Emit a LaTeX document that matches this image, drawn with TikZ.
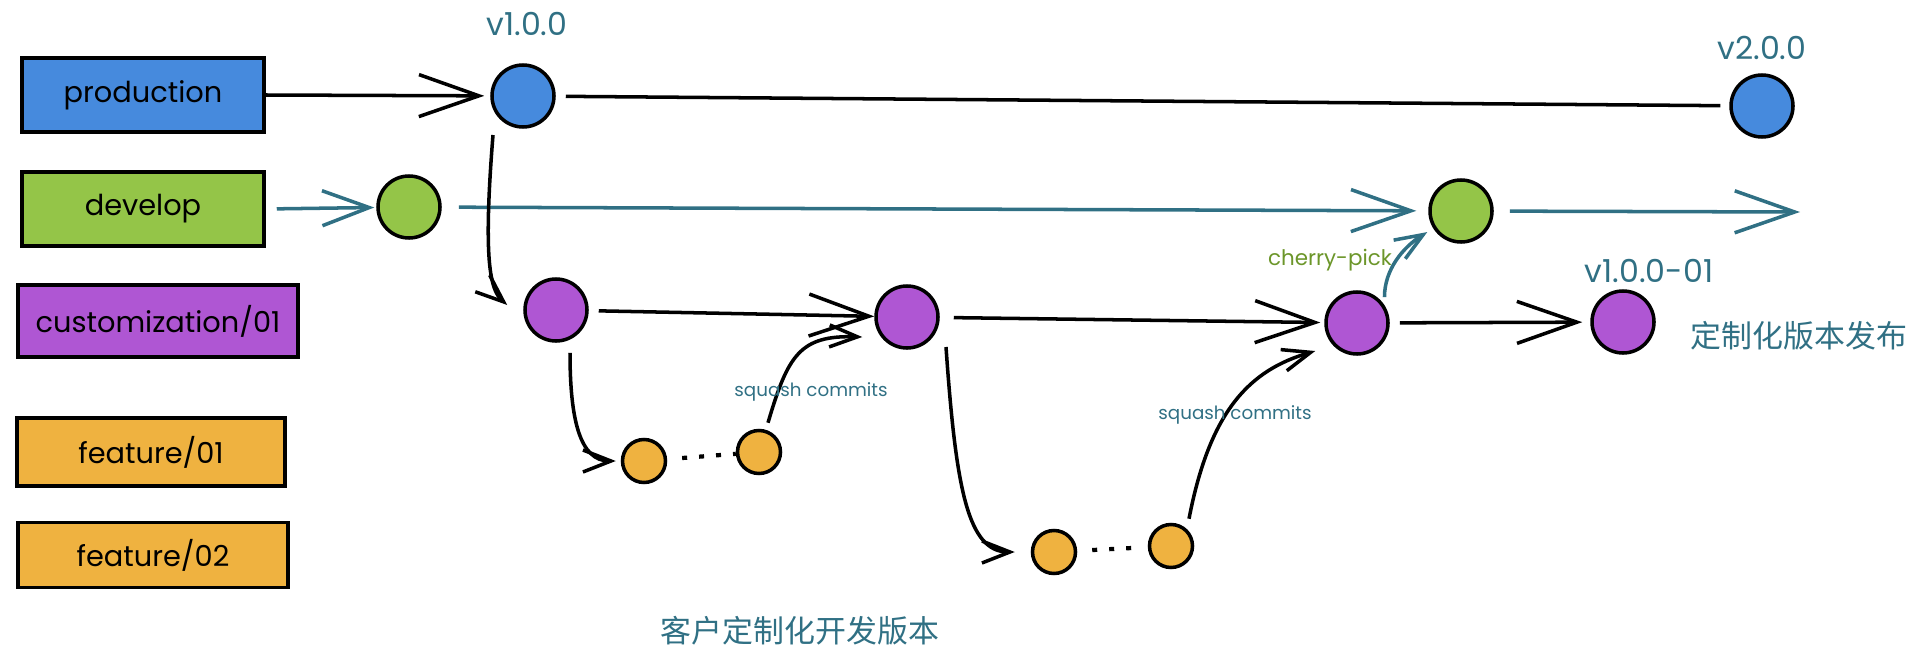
\documentclass[tikz,border=0pt]{standalone}
\usepackage{fontspec}
\setmainfont{Poppins}
\newfontfamily\cjkfont{Noto Sans CJK SC}
\usetikzlibrary{arrows.meta}
\definecolor{brBlue}{RGB}{70,138,221}
\definecolor{brGreen}{RGB}{148,197,72}
\definecolor{brPurple}{RGB}{175,86,211}
\definecolor{brOrange}{RGB}{239,178,64}
\definecolor{brTeal}{RGB}{48,112,132}
\definecolor{brOlive}{RGB}{108,150,42}
\newcommand{\LW}{1pt}
\newcommand{\DC}{0.62}
\newcommand{\DF}{0.43}
\newcommand{\fs}[1]{\fontsize{#1}{#1}\selectfont}

\begin{document}
\begin{tikzpicture}[
    branch/.style={draw=black, line width=\LW, inner sep=0pt, font=\fs{8.2}},
    commit/.style={circle, draw=black, line width=\LW, inner sep=0pt, minimum size=\DC cm},
    wip/.style={commit, fill=brOrange, minimum size=\DF cm},
    flow/.style={line width=\LW, -{Straight Barb[length=6mm, width=4.2mm]}},
    hop/.style={line width=\LW, -{Straight Barb[length=2.8mm, width=2.2mm]}},
    rail/.style={line width=\LW},
    dots/.style={line width=1.2pt, dash pattern=on 0.5mm off 1.2mm},
    ver/.style={text=brTeal, font=\fs{9}},
    note/.style={text=brTeal, font=\fs{5.2}},
    cn/.style={text=brTeal, font=\cjkfont\fs{8.8}},
  ]
  \useasboundingbox (0,0) rectangle (19.28,-6.58);

  %% ================= branch names =================
  \foreach \nm/\x/\y/\w/\h/\col/\txt in {
      prod/1.43/-0.95/2.42/0.74/brBlue/production,
      dev/1.43/-2.09/2.42/0.74/brGreen/develop,
      cust/1.58/-3.21/2.80/0.72/brPurple/{customization/01},
      featA/1.51/-4.52/2.68/0.68/brOrange/{feature/01},
      featB/1.53/-5.55/2.70/0.65/brOrange/{feature/02}} {
    \node[branch, fill=\col, minimum width=\w cm, minimum height=\h cm] (\nm) at (\x,\y) {\txt};
  }

  %% ================= commits =================
  \node[commit, fill=brBlue]   (pA) at (5.23,-0.96) {};
  \node[commit, fill=brBlue]   (pB) at (17.62,-1.06) {};
  \node[commit, fill=brGreen]  (dA) at (4.09,-2.07) {};
  \node[commit, fill=brGreen]  (dB) at (14.61,-2.11) {};
  \node[commit, fill=brPurple] (cA) at (5.56,-3.10) {};
  \node[commit, fill=brPurple] (cB) at (9.07,-3.17) {};
  \node[commit, fill=brPurple] (cC) at (13.57,-3.23) {};
  \node[commit, fill=brPurple] (cD) at (16.23,-3.22) {};
  \node[wip] (fA) at (6.44,-4.61) {};
  \node[wip] (fB) at (7.59,-4.52) {};
  \node[wip] (fC) at (10.54,-5.52) {};
  \node[wip] (fD) at (11.71,-5.46) {};

  %% ---- production line ----
  \draw[flow, shorten >=0.6mm] (prod.east) -- (pA);
  \draw[rail, shorten <=1mm, shorten >=0.9mm] (pA) -- (pB);

  %% ---- develop line ----
  \coordinate (devEnd) at (18.00,-2.12);
  \draw[flow, brTeal, shorten <=1.1mm, shorten >=0.2mm,
    -{Straight Barb[length=4.7mm, width=3.5mm]}] (dev.east) -- (dA);
  \draw[flow, brTeal, shorten <=1.7mm, shorten >=1.2mm] (dA) -- (dB);
  \draw[flow, brTeal, shorten <=1.6mm] (dB) -- (devEnd);

  %% ---- customization line ----
  \draw[hop] ([shift={(-0.30,-0.39)}]pA.center) .. controls (4.83,-2.60)
    and (4.90,-2.90) .. ([shift={(-0.16,0.05)}]cA.west);
  \draw[flow, shorten <=1mm] (cA) -- (cB);
  \draw[flow, shorten <=1.4mm, shorten >=0.4mm] (cB) -- (cC);
  \draw[flow, shorten <=1mm, shorten >=0.8mm] (cC) -- (cD);

  %% ---- feature/01: branch off, squash back ----
  \draw[hop] ([shift={(0.14,-0.10)}]cA.south) .. controls (5.70,-4.20)
    and (5.80,-4.61) .. ([xshift=-0.5mm]fA.west);
  \draw[dots, shorten <=1.5mm] (fA) -- (fB);
  \draw[hop] ([shift={(0.09,0.06)}]fB.north) .. controls (7.88,-3.55)
    and (8.00,-3.35) .. ([shift={(-0.12,-0.20)}]cB.west);

  %% ---- feature/02: branch off, squash back ----
  \draw[hop] ([shift={(0.39,-0.30)}]cB.center) .. controls (9.56,-4.90)
    and (9.68,-5.52) .. ([xshift=-1.6mm]fC.west);
  \draw[dots, shorten <=1.5mm, shorten >=1.5mm] (fC) -- (fD);
  \draw[hop] ([shift={(0.18,0.04)}]fD.north) .. controls (12.10,-4.10)
    and (12.50,-3.70) .. ([shift={(-0.09,-0.28)}]cC.west);

  %% ---- cherry-pick up to develop ----
  \draw[hop, brTeal, shorten <=0.8mm, shorten >=0.7mm] (cC.33) to[out=90, in=212] (dB.212);

  %% ================= labels =================
  \node[ver] (vA) at (5.27,-0.24) {v1.0.0};
  \node[ver] (vB) at (17.62,-0.48) {v2.0.0};
  \node[ver] (vC) at (16.49,-2.71) {v1.0.0-01};
  \node[text=brOlive, font=\fs{6.1}] (pick) at (13.30,-2.60) {cherry-pick};
  \node[note] (sqA) at (8.11,-3.92) {squash commits};
  \node[note] (sqB) at (12.35,-4.15) {squash commits};
  \node[cn] (rel) at (17.99,-3.36) {定制化版本发布};
  \node[cn] (work) at (8.00,-6.31) {客户定制化开发版本};

\end{tikzpicture}
\end{document}
